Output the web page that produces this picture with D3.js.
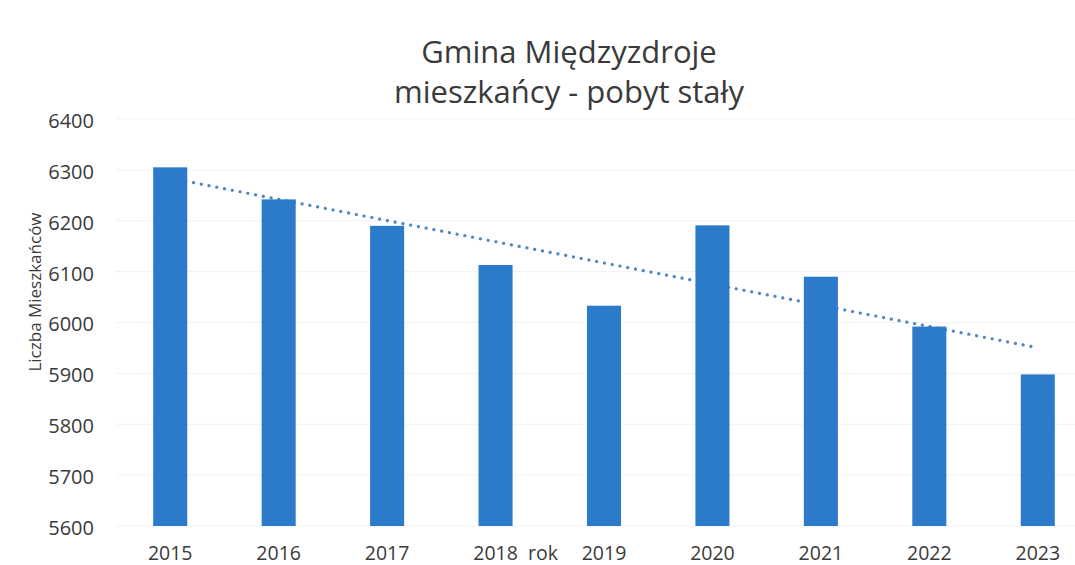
<!DOCTYPE html>
<html>
<head>
<meta charset="utf-8">
<script src="https://cdn.jsdelivr.net/npm/d3@7"></script>
<style>
  body { margin: 0; background: #fff; }
  svg { display: block; font-family: 'Open Sans', sans-serif; }
</style>
</head>
<body>
<svg id="chart" width="1075" height="565"></svg>
<script>
const years = ['2015', '2016', '2017', '2018', '2019', '2020', '2021', '2022', '2023'];
const residents = [6305, 6242, 6190, 6113, 6033, 6191, 6090, 5992, 5898];
const yTicks = [5600, 5700, 5800, 5900, 6000, 6100, 6200, 6300, 6400];
const titleLines = ['Gmina Międzyzdroje', 'mieszkańcy - pobyt stały'];

const conf = {
  barColor: '#2b7bca',
  trendColor: '#4f87c8',
  textColor: '#3a3a3a',
  gridColor: '#f2f2f2'
};

const svg = d3.select('#chart');

const x = d3
  .scaleBand()
  .domain(years)
  .range([116, 1092])
  .paddingInner(0.686)
  .paddingOuter(0.343);

const y = d3
  .scaleLinear()
  .domain([5600, 6400])
  .range([526, 119]);

// faint gridlines
svg
  .append('g')
  .selectAll('line')
  .data(yTicks)
  .join('line')
  .attr('x1', 116)
  .attr('x2', 1075)
  .attr('y1', d => y(d))
  .attr('y2', d => y(d))
  .attr('stroke', conf.gridColor)
  .attr('stroke-width', 1);

// linear trendline (least squares over category index)
const n = residents.length;
const idx = d3.range(1, n + 1);
const mx = d3.mean(idx);
const my = d3.mean(residents);
const slope =
  d3.sum(idx, (v, i) => (v - mx) * (residents[i] - my)) / d3.sum(idx, v => (v - mx) * (v - mx));
const trend = idx.map(v => my + slope * (v - mx));

const line = d3
  .line()
  .x((d, i) => x(years[i]) + x.bandwidth() / 2)
  .y(d => y(d));

svg
  .append('path')
  .attr('d', line(trend))
  .attr('fill', 'none')
  .attr('stroke', conf.trendColor)
  .attr('stroke-width', 3.2)
  .attr('stroke-linecap', 'round')
  .attr('stroke-dasharray', '0.1 7.8');

// bars
svg
  .append('g')
  .selectAll('rect')
  .data(residents)
  .join('rect')
  .attr('x', (d, i) => x(years[i]))
  .attr('y', d => y(d))
  .attr('width', x.bandwidth())
  .attr('height', d => y(5600) - y(d))
  .attr('fill', conf.barColor);

// y axis labels
const yAxis = svg
  .append('g')
  .attr('transform', 'translate(94,0)')
  .call(
    d3
      .axisLeft(y)
      .tickValues(yTicks)
      .tickFormat(d3.format('d'))
      .tickSize(0)
      .tickPadding(0)
  );
yAxis.select('.domain').remove();
yAxis
  .selectAll('text')
  .attr('fill', conf.textColor)
  .attr('font-size', 20)
  .attr('font-family', "'Open Sans', sans-serif")
  .attr('dy', '0.42em');

// x axis labels
const xAxis = svg
  .append('g')
  .attr('transform', 'translate(0,' + 546 + ')')
  .call(
    d3
      .axisBottom(x)
      .tickSize(0)
      .tickPadding(0)
  );
xAxis.select('.domain').remove();
xAxis
  .selectAll('text')
  .attr('fill', conf.textColor)
  .attr('font-size', 19.5)
  .attr('font-family', "'Open Sans', sans-serif");

// x axis title sitting next to the 2018 label
svg
  .append('text')
  .attr('x', 528)
  .attr('y', 546)
  .attr('dy', '0.71em')
  .attr('fill', conf.textColor)
  .attr('font-size', 19.5)
  .text('rok');

// y axis title
svg
  .append('text')
  .attr('transform', 'translate(41,292) rotate(-90)')
  .attr('text-anchor', 'middle')
  .attr('fill', conf.textColor)
  .attr('font-size', 17)
  .text('Liczba Mieszkańców');

// chart title
svg
  .append('g')
  .selectAll('text')
  .data(titleLines)
  .join('text')
  .attr('x', 569)
  .attr('y', (d, i) => 63 + i * 40)
  .attr('text-anchor', 'middle')
  .attr('fill', conf.textColor)
  .attr('font-size', 31)
  .text(d => d);
</script>
</body>
</html>
